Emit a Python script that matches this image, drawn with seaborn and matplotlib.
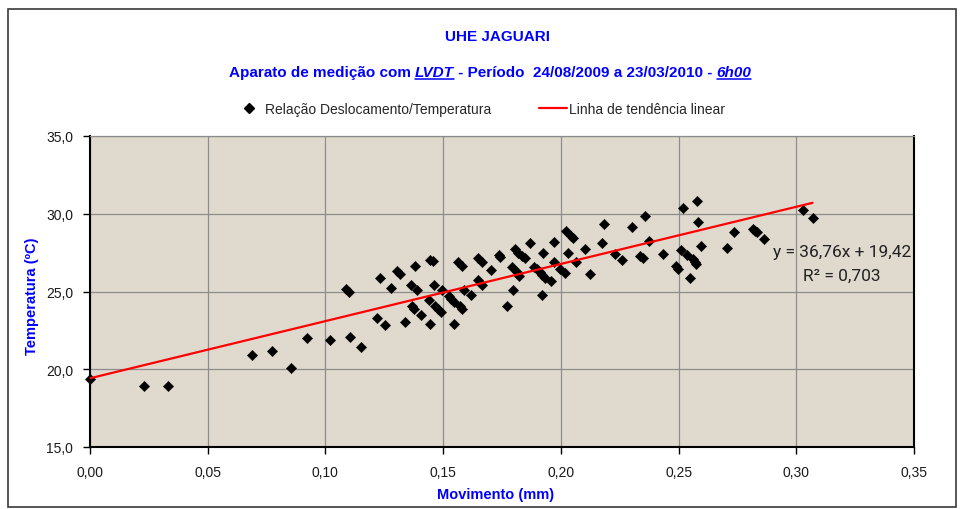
import numpy as np
import pandas as pd
import matplotlib
matplotlib.use("Agg")
import matplotlib.pyplot as plt
import seaborn as sns
from matplotlib.lines import Line2D
from matplotlib.patches import Rectangle
from matplotlib.ticker import FixedLocator, FuncFormatter

# Displacement (mm) vs temperature (ºC) readings, LVDT at 6h00
movimento_mm = [
    0.000, 0.023, 0.033, 0.069, 0.0775, 0.0855, 0.092, 0.102, 0.1105, 0.1153,
    0.1087, 0.1098, 0.123, 0.1218, 0.1255, 0.128, 0.1303, 0.1317, 0.138, 0.1364,
    0.139, 0.1339, 0.1367, 0.1377, 0.1407, 0.1445, 0.1455, 0.1463, 0.1442, 0.1445,
    0.1466, 0.148, 0.149, 0.1497, 0.1523, 0.1533, 0.1544, 0.1573, 0.158, 0.1548,
    0.1561, 0.158, 0.159, 0.1618, 0.1646, 0.1665, 0.1703, 0.1646, 0.1665, 0.1736,
    0.1743, 0.1771, 0.1792, 0.1796, 0.1813, 0.1824, 0.1806, 0.182, 0.1835, 0.1846,
    0.187, 0.1884, 0.1898, 0.191, 0.1921, 0.1931, 0.1958, 0.192, 0.1924, 0.1972,
    0.1969, 0.1998, 0.2019, 0.2029, 0.2022, 0.2042, 0.2050, 0.2066, 0.2104, 0.2122,
    0.2185, 0.2176, 0.2231, 0.2261, 0.2302, 0.2356, 0.2373, 0.2335, 0.2347, 0.2432,
    0.2517, 0.249, 0.2497, 0.251, 0.2537, 0.256, 0.2569, 0.2576, 0.2547, 0.2578,
    0.2583, 0.2597, 0.2706, 0.2734, 0.2816, 0.2826, 0.2833, 0.2862, 0.3029, 0.3069,
]
temperatura_c = [
    19.35, 18.9, 18.9, 20.9, 21.15, 20.05, 22.0, 21.9, 22.1, 21.45,
    25.15, 25.0, 25.9, 23.3, 22.85, 25.25, 26.35, 26.1, 26.65, 25.45,
    25.1, 23.05, 24.05, 23.85, 23.5, 27.05, 26.95, 25.45, 24.45, 22.9,
    24.05, 23.85, 23.65, 25.1, 24.7, 24.5, 24.35, 24.05, 23.85, 22.9,
    26.9, 26.65, 25.1, 24.75, 27.15, 26.9, 26.4, 25.75, 25.45, 27.35,
    27.2, 24.05, 26.55, 25.1, 26.25, 26.0, 27.75, 27.5, 27.3, 27.15,
    28.15, 26.6, 26.45, 26.25, 26.05, 25.9, 25.65, 24.8, 27.45, 28.2,
    26.9, 26.45, 26.2, 27.45, 28.9, 28.6, 28.45, 26.9, 27.75, 26.1,
    29.35, 28.15, 27.4, 27.0, 29.15, 29.85, 28.25, 27.3, 27.15, 27.4,
    30.35, 26.65, 26.45, 27.65, 27.35, 27.1, 26.9, 26.75, 25.85, 30.85,
    29.5, 27.9, 27.8, 28.85, 29.0, 28.9, 28.85, 28.4, 30.25, 29.7,
]

# Linear trend coefficients
slope = 36.76
intercept = 19.42
r_squared = 0.703

x_ticks = [0.00, 0.05, 0.10, 0.15, 0.20, 0.25, 0.30, 0.35]
y_ticks = [15.0, 20.0, 25.0, 30.0, 35.0]

legend_labels = ["Relação Deslocamento/Temperatura", "Linha de tendência linear"]

sns.set_theme(style="white")
plt.rcParams["font.family"] = ["Liberation Sans", "DejaVu Sans"]

W, H = 968, 510
BLUE = "#0000FF"


def fx(px):
    return px / W


def fy(py):
    return 1 - py / H


fig = plt.figure(figsize=(W / 100, H / 100), dpi=100)
fig.patch.set_facecolor("white")

# outer chart frame
fig.patches.append(Rectangle((fx(8), fy(508)), fx(956) - fx(8), fy(10) - fy(508),
                             transform=fig.transFigure, fill=False,
                             edgecolor="#3a3a3a", linewidth=1.2))

ax = fig.add_axes([fx(90), fy(448), fx(914) - fx(90), fy(137) - fy(448)])
ax.set_facecolor("#E0D9CE")

df = pd.DataFrame({"Movimento": movimento_mm, "Temperatura": temperatura_c})
sns.scatterplot(data=df, x="Movimento", y="Temperatura", marker="D", s=28,
                color="black", edgecolor="black", linewidth=0.3, ax=ax,
                zorder=3, clip_on=False, legend=False)

x_line = np.array([min(movimento_mm), max(movimento_mm)])
sns.lineplot(x=x_line, y=slope * x_line + intercept, color="#FF0000",
             linewidth=1.6, ax=ax, zorder=4, legend=False)

ax.set_xlim(0, 0.35)
ax.set_ylim(15, 35)
ax.xaxis.set_major_locator(FixedLocator(x_ticks))
ax.yaxis.set_major_locator(FixedLocator(y_ticks))
ax.xaxis.set_major_formatter(FuncFormatter(lambda v, p: f"{v:.2f}".replace(".", ",")))
ax.yaxis.set_major_formatter(FuncFormatter(lambda v, p: f"{v:.1f}".replace(".", ",")))
ax.set_xlabel("")
ax.set_ylabel("")

ax.grid(True, color="#8c8c8c", linewidth=0.9)
ax.set_axisbelow(True)
for side in ["left", "bottom", "right"]:
    ax.spines[side].set_color("black")
    ax.spines[side].set_linewidth(1.5)
ax.spines["top"].set_color("#8c8c8c")
ax.spines["top"].set_linewidth(0.9)

ax.tick_params(axis="both", which="major", direction="out", length=5, width=1,
               color="black", labelsize=10, labelcolor="#1a1a1a")
ax.tick_params(axis="x", pad=8)
ax.tick_params(axis="y", pad=7)
ax.tick_params(right=False, top=False)
ax.tick_params(left=True, bottom=True)

# axis titles
fig.text(fx(496), fy(495), "Movimento (mm)", ha="center", va="center",
         color=BLUE, fontweight="bold", fontsize=10.5)
fig.text(fx(32), fy(296), "Temperatura (ºC)", ha="center", va="center",
         rotation=90, color=BLUE, fontweight="bold", fontsize=10.5)

# titles
fig.text(fx(497), fy(37), "UHE JAGUARI", ha="center", va="center",
         color=BLUE, fontweight="bold", fontsize=11)

sub_parts = [
    ("Aparato de medição com ", "normal", False),
    ("LVDT", "italic", True),
    (" - Período  24/08/2009 a 23/03/2010 - ", "normal", False),
    ("6h00", "italic", True),
]
renderer = fig.canvas.get_renderer()
texts = []
for s, style, _ in sub_parts:
    t = fig.text(0, fy(72), s, ha="left", va="baseline", color=BLUE,
                 fontweight="bold", fontstyle=style, fontsize=11)
    texts.append(t)
widths = [t.get_window_extent(renderer).width for t in texts]
total = sum(widths)
x0 = 490 - total / 2
y_base = 77
for t, w, (s, style, ul) in zip(texts, widths, sub_parts):
    t.set_position((fx(x0), fy(y_base)))
    if ul:
        fig.add_artist(Line2D([fx(x0), fx(x0 + w)], [fy(y_base + 2.5)] * 2,
                              transform=fig.transFigure, color=BLUE, linewidth=1.1))
    x0 += w

# legend
handles = [
    Line2D([], [], marker="D", color="black", linestyle="none", markersize=4.8),
    Line2D([], [], color="#FF0000", linewidth=1.6),
]
fig.legend(handles, legend_labels, loc="center", bbox_to_anchor=(fx(480), fy(110)),
           ncol=2, frameon=False, fontsize=10, handlelength=2.0,
           handletextpad=0.15, columnspacing=3.4, borderpad=0.0)

# trend equation
fig.text(fx(842), fy(252), "y = 36,76x + 19,42", ha="center", va="center",
         fontsize=12.5, color="#222222", family=["Roboto", "DejaVu Sans"])
fig.text(fx(842), fy(276), "R² = 0,703", ha="center", va="center",
         fontsize=12.5, color="#222222", family=["Roboto", "DejaVu Sans"])

fig.savefig("out.png", dpi=100)
